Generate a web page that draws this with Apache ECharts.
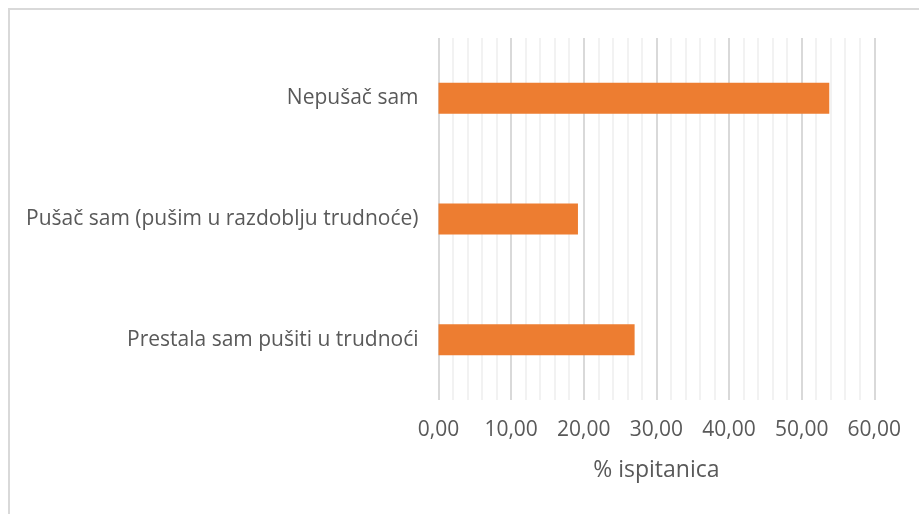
<!DOCTYPE html>
<html>
<head>
<meta charset="utf-8">
<script src="https://cdn.jsdelivr.net/npm/echarts@6/dist/echarts.min.js"></script>
<style>
html, body { margin: 0; padding: 0; background: #fff; }
#main { width: 919px; height: 514px; }
</style>
</head>
<body>
<div id="main"></div>
<script>
// chart data
const categories = ["Nepušač sam", "Pušač sam (pušim u razdoblju trudnoće)", "Prestala sam pušiti u trudnoći"];
const values = [53.8, 19.2, 27.0];
const axisName = "% ispitanica";

const myChart = echarts.init(document.getElementById("main"));
const font = "'Open Sans', 'Noto Sans', sans-serif";
const option = {
    animation: false,
    graphic: [{
        type: "rect",
        shape: { x: 9, y: 9, width: 930, height: 520 },
        style: { fill: "none", stroke: "#d9d9d9", lineWidth: 2 }
    }],
    grid: {
        left: 438.5,
        right: 44.7,
        top: 38,
        bottom: 114,
        outerBoundsMode: "none"
    },
    xAxis: {
        type: "value",
        min: 0,
        max: 60,
        interval: 10,
        name: axisName,
        nameLocation: "middle",
        nameGap: 59,
        nameTextStyle: { color: "#595959", fontSize: 23, fontFamily: font },
        axisLine: { show: false },
        axisTick: { show: false },
        axisLabel: {
            color: "#595959",
            fontSize: 21,
            fontFamily: font,
            margin: 20,
            formatter: v => v.toFixed(2).replace(".", ",")
        },
        splitLine: { lineStyle: { color: "#d9d9d9", width: 2 } },
        minorTick: { show: false, splitNumber: 5 },
        minorSplitLine: { show: true, lineStyle: { color: "#f2f2f2", width: 2 } }
    },
    yAxis: {
        type: "category",
        inverse: true,
        data: categories,
        axisLine: { show: false },
        axisTick: { show: false },
        axisLabel: {
            color: "#595959",
            fontSize: 21,
            fontFamily: font,
            margin: 20
        }
    },
    series: [{
        type: "bar",
        data: values,
        barWidth: 31,
        itemStyle: { color: "#ed7d31" }
    }]
};
myChart.setOption(option);
</script>
</body>
</html>
